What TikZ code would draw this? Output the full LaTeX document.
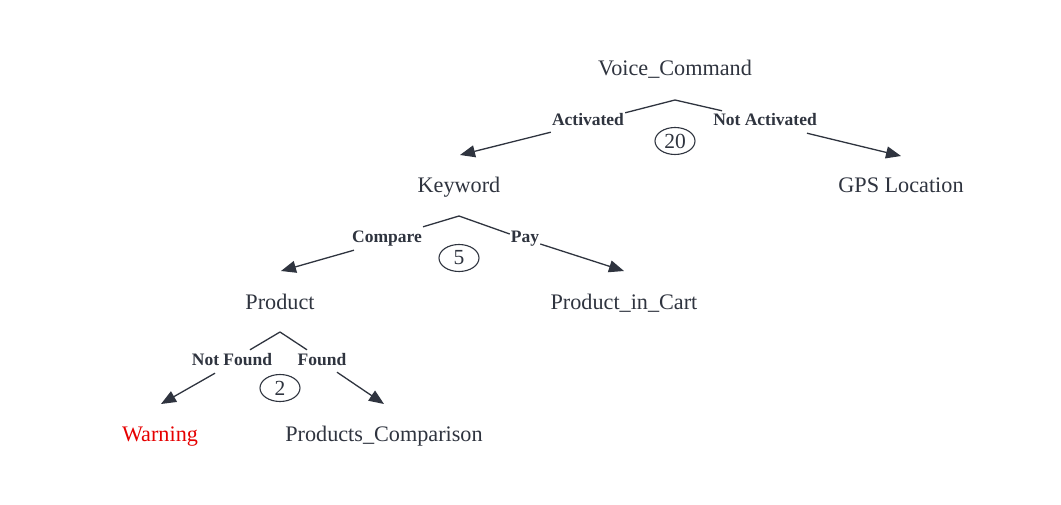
\documentclass[tikz,border=0pt]{standalone}
\usepackage{fontspec}
\setmainfont{Liberation Serif}
\usetikzlibrary{arrows.meta,shapes.geometric}
\definecolor{ink}{RGB}{47,52,63}
\definecolor{warnred}{RGB}{230,0,0}
\tikzset{
  treenode/.style={text=ink, inner sep=1pt, text height=14pt, text depth=0pt, font=\fontsize{22.2}{25}\selectfont},
  edgelabel/.style={text=ink, inner sep=1pt, text height=12pt, text depth=0pt, font=\bfseries\fontsize{17.5}{20}\selectfont},
  countbox/.style={draw=ink, line width=1.1pt, ellipse, minimum width=40pt, minimum height=27pt, inner sep=0pt, text=ink, font=\fontsize{21.5}{24}\selectfont},
  conn/.style={draw=ink, line width=1.3pt},
  arrowconn/.style={conn, -{Triangle[length=15pt,width=12pt]}},
}
\begin{document}
\begin{tikzpicture}[x=1pt,y=-1pt]
\useasboundingbox[fill=white] (0,0) rectangle (1061,505);
% nodes
\node[treenode] (vc) at (675,69) {Voice\_Command};
\node[treenode] (kw) at (459,186) {Keyword};
\node[treenode] (gps) at (901,186) {GPS Location};
\node[treenode] (pr) at (280,302) {Product};
\node[treenode] (pic) at (624,302) {Product\_in\_Cart};
\node[treenode, text=warnred] (warn) at (160,434) {Warning};
\node[treenode] (pc) at (384,434) {Products\_Comparison};
% apexes and arrow tips
\coordinate (vc-apex) at (675,100);
\coordinate (kw-apex) at (459,216);
\coordinate (pr-apex) at (280,332);
\coordinate (kw-tip) at (460,155);
\coordinate (gps-tip) at (901,156);
\coordinate (pr-tip) at (281,271);
\coordinate (pic-tip) at (624,271);
\coordinate (warn-tip) at (161,404);
\coordinate (pc-tip) at (384,404);
% labels
\node[edgelabel] (lact) at (588,120) {Activated};
\node[edgelabel] (lnact) at (765,120) {Not Activated};
\node[edgelabel] (lcmp) at (387,237) {Compare};
\node[edgelabel] (lpay) at (525,237) {Pay};
\node[edgelabel] (lnf) at (232,359) {Not Found};
\node[edgelabel] (lf) at (322,359) {Found};
% counts
\node[countbox] (c20) at (675,141) {20};
\node[countbox] (c5) at (459,258) {5};
\node[countbox] (c2) at (280,388) {2};
% connectors
\draw[conn] (vc-apex) -- (lact.north east);
\draw[conn] (vc-apex) -- ([xshift=10pt,yshift=2pt]lnact.north west);
\draw[arrowconn] ([yshift=-5pt]lact.south west) -- (kw-tip);
\draw[arrowconn] ([xshift=-11pt,yshift=-6pt]lnact.south east) -- (gps-tip);
\draw[conn] (kw-apex) -- ([yshift=3pt]lcmp.north east);
\draw[conn] (kw-apex) -- ([yshift=3pt]lpay.west);
\draw[arrowconn] ([xshift=3pt,yshift=-6pt]lcmp.south west) -- (pr-tip);
\draw[arrowconn] ([yshift=-7pt]lpay.east) -- (pic-tip);
\draw[conn] (pr-apex) -- ([xshift=18pt,yshift=2pt]lnf.north);
\draw[conn] (pr-apex) -- ([xshift=-15pt,yshift=2pt]lf.north);
\draw[arrowconn] ([xshift=-17pt,yshift=-7pt]lnf.south) -- (warn-tip);
\draw[arrowconn] ([xshift=15pt,yshift=-6pt]lf.south) -- (pc-tip);
\end{tikzpicture}
\end{document}
